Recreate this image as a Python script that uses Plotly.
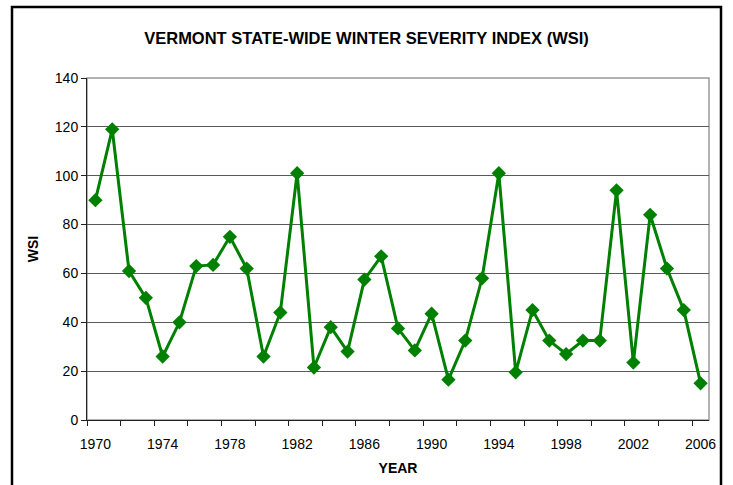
import plotly.graph_objects as go

years = list(range(1970, 2007))
wsi = [90, 119, 61, 50, 26, 40, 63, 63.5, 75, 62, 26, 44,
       101, 21.5, 38, 28, 57.5, 67, 37.5, 28.5, 43.5, 16.5, 32.5, 58,
       101, 19.5, 45, 32.5, 27, 32.5, 32.5, 94, 23.5, 84, 62, 45, 15]
x_labels = list(range(1970, 2007, 4))
y_ticks = list(range(0, 141, 20))

FONT = "Liberation Sans, Arial, sans-serif"

fig = go.Figure()
fig.add_trace(go.Scatter(
    x=years, y=wsi, mode="lines+markers",
    line=dict(color="#008000", width=3),
    marker=dict(symbol="diamond", size=11, color="#008000"),
    showlegend=False, cliponaxis=False,
))

fig.update_layout(
    width=733, height=485,
    margin=dict(l=87, r=24, t=78, b=65),
    paper_bgcolor="white", plot_bgcolor="white",
    font=dict(family=FONT, size=14, color="black"),
    title=dict(text="<b>VERMONT STATE-WIDE WINTER SEVERITY INDEX (WSI)</b>",
               x=0.5, xanchor="center", y=1 - 38 / 485, yanchor="middle",
               yref="container", font=dict(size=16.5, family=FONT)),
    xaxis=dict(
        range=[1969.5, 2006.5], tickmode="array", tickvals=x_labels,
        ticks="", showgrid=False, zeroline=False,
        showline=True, linecolor="#222", linewidth=1,
        tickfont=dict(size=14), ticklabelstandoff=11,
        minor=dict(tick0=1969.5, dtick=2, ticks="outside", ticklen=5,
                   tickcolor="#222", tickwidth=1, showgrid=False),
        title=dict(text="<b>YEAR</b>", font=dict(size=14), standoff=12),
    ),
    yaxis=dict(
        range=[0, 140], tickmode="array", tickvals=y_ticks,
        ticks="outside", ticklen=5, tickcolor="#222",
        showgrid=True, gridcolor="#5a5a5a", gridwidth=1, zeroline=False,
        showline=True, linecolor="#222", linewidth=1,
        tickfont=dict(size=14),
        title=dict(text="<b>WSI</b>", font=dict(size=14), standoff=12),
    ),
    shapes=[
        dict(type="rect", xref="paper", yref="paper", x0=0, x1=1, y0=0, y1=1,
             line=dict(color="#999999", width=1.5), layer="below"),
        dict(type="rect", xref="paper", yref="paper",
             x0=(12 - 87) / 622, x1=(721 - 87) / 622,
             y0=(420 - 495) / 342, y1=(420 - 7) / 342,
             line=dict(color="black", width=2.5), layer="below"),
    ],
)

fig.write_html("out.html", config={"displayModeBar": False},
               post_script="document.body.style.margin='0';document.body.style.overflow='hidden';")
